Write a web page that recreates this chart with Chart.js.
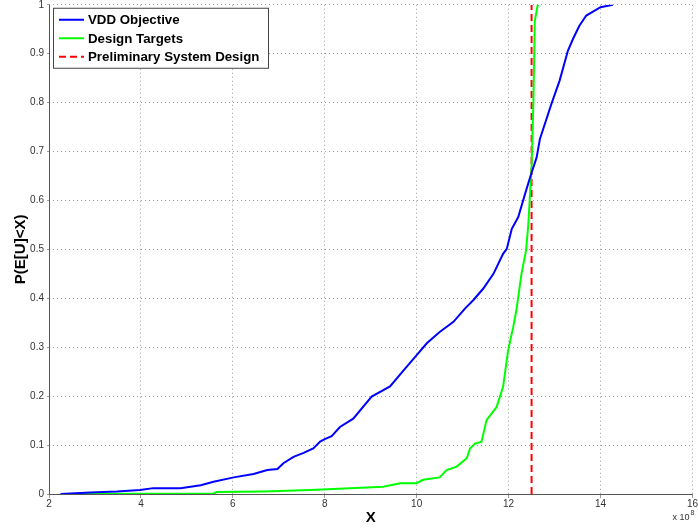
<!DOCTYPE html>
<html>
<head>
<meta charset="utf-8">
<script src="https://cdn.jsdelivr.net/npm/chart.js@4/dist/chart.umd.min.js"></script>
<style>
  html, body { margin: 0; padding: 0; background: #fff; }
  #wrap { width: 698px; height: 529px; position: relative; }
</style>
</head>
<body>
<div id="wrap"><canvas id="cdfChart"></canvas></div>
<script>
// DATA (x in units of 10^8)
const vddX = [2.25, 2.9, 3.48, 3.98, 4.27, 4.86, 5.3, 5.58, 6.02, 6.45, 6.75, 6.97, 7.1, 7.32, 7.54, 7.75, 7.9, 8.0, 8.15, 8.33, 8.62, 9.02, 9.42, 9.78, 10, 10.22, 10.5, 10.8, 11.05, 11.23, 11.45, 11.67, 11.88, 11.96, 12.07, 12.21, 12.36, 12.47, 12.61, 12.68, 12.93, 13.11, 13.29, 13.4, 13.54, 13.69, 14, 14.27];
const vddY = [0, 0.003, 0.005, 0.008, 0.012, 0.012, 0.018, 0.025, 0.034, 0.041, 0.049, 0.051, 0.063, 0.076, 0.084, 0.093, 0.107, 0.112, 0.118, 0.137, 0.154, 0.199, 0.22, 0.26, 0.284, 0.308, 0.331, 0.352, 0.379, 0.396, 0.42, 0.45, 0.491, 0.501, 0.542, 0.566, 0.614, 0.648, 0.688, 0.725, 0.797, 0.845, 0.906, 0.93, 0.957, 0.978, 0.995, 1.0];

const targetX = [2.72, 5.58, 5.65, 6.67, 7.68, 8.19, 8.55, 9.27, 9.64, 10, 10.14, 10.5, 10.65, 10.87, 11.09, 11.16, 11.27, 11.41, 11.52, 11.74, 11.88, 11.99, 12.1, 12.17, 12.28, 12.38, 12.43, 12.47, 12.5, 12.54, 12.57, 12.63, 12.65];
const targetY = [0, 0.001, 0.004, 0.005, 0.008, 0.01, 0.012, 0.015, 0.022, 0.022, 0.029, 0.034, 0.049, 0.056, 0.073, 0.093, 0.103, 0.107, 0.151, 0.178, 0.219, 0.294, 0.341, 0.376, 0.45, 0.498, 0.552, 0.62, 0.668, 0.804, 0.967, 0.998, 1.0];

const designX = [12.5, 12.5];
const designY = [0, 1];

const seriesNames = ['VDD Objective', 'Design Targets', 'Preliminary System Design'];
const xTicks = [2, 4, 6, 8, 10, 12, 14, 16];
const yTicks = [0, 0.1, 0.2, 0.3, 0.4, 0.5, 0.6, 0.7, 0.8, 0.9, 1];

function toPoints(xs, ys) {
    return xs.map((x, i) => ({ x: x, y: ys[i] }));
}

// legend box drawn inside the plot, matlab style
const boxLegend = {
    id: 'boxLegend',
    afterDraw(chart) {
        const ctx = chart.ctx;
        const area = chart.chartArea;
        const left = area.left + 4, top = area.top + 3;
        ctx.save();
        ctx.fillStyle = '#fff';
        ctx.fillRect(left, top, 215, 60);
        ctx.strokeStyle = '#444';
        ctx.lineWidth = 1;
        ctx.strokeRect(left + 0.5, top + 0.5, 215, 60);
        ctx.font = 'bold 13.3px "Liberation Sans", Arial, sans-serif';
        ctx.textBaseline = 'middle';
        chart.data.datasets.forEach((ds, i) => {
            const y = top + 12 + i * 18.5;
            ctx.strokeStyle = ds.borderColor;
            ctx.lineWidth = 2;
            ctx.setLineDash(ds.borderDash || []);
            ctx.beginPath();
            ctx.moveTo(left + 6, y);
            ctx.lineTo(left + 31, y);
            ctx.stroke();
            ctx.setLineDash([]);
            ctx.fillStyle = '#000';
            ctx.fillText(ds.label, left + 35, y + 1);
        });
        // exponent label
        ctx.font = '9px "Liberation Sans", Arial, sans-serif';
        ctx.fillStyle = '#333';
        ctx.textBaseline = 'alphabetic';
        ctx.fillText('x 10', area.right - 20, 520);
        ctx.font = '7px "Liberation Sans", Arial, sans-serif';
        ctx.fillText('8', area.right - 2, 515);
        // left and bottom axis lines
        ctx.strokeStyle = '#555';
        ctx.lineWidth = 1;
        ctx.beginPath();
        ctx.moveTo(area.left + 0.5, area.top);
        ctx.lineTo(area.left + 0.5, area.bottom + 0.5);
        ctx.lineTo(area.right, area.bottom + 0.5);
        ctx.stroke();
        ctx.restore();
    }
};

const ctx = document.querySelector('#cdfChart').getContext('2d');

let cdfChart = new Chart(ctx, {
    type: 'scatter',
    data: {
        datasets: [{
            label: seriesNames[0],
            data: toPoints(vddX, vddY),
            showLine: true,
            borderColor: '#0000ff',
            borderWidth: 2,
            pointRadius: 0,
            tension: 0
        }, {
            label: seriesNames[1],
            data: toPoints(targetX, targetY),
            showLine: true,
            borderColor: '#00ff00',
            borderWidth: 2,
            pointRadius: 0,
            tension: 0
        }, {
            label: seriesNames[2],
            data: toPoints(designX, designY),
            showLine: true,
            borderColor: '#ff0000',
            borderDash: [7, 4],
            borderWidth: 2,
            pointRadius: 0
        }]
    },
    options: {
        responsive: true,
        maintainAspectRatio: false,
        animation: false,
        layout: { padding: { left: 0, right: 2, top: 0, bottom: 0 } },
        plugins: {
            legend: { display: false },
            tooltip: { enabled: false }
        },
        scales: {
            x: {
                type: 'linear',
                min: 2,
                max: 16,
                afterBuildTicks: (scale) => { scale.ticks = xTicks.map(v => ({ value: v })); },
                afterFit: (scale) => { scale.height = 35; },
                ticks: {
                    color: '#333',
                    font: { size: 10, family: '"Liberation Sans", Arial, sans-serif' },
                    padding: 0,
                    maxRotation: 0
                },
                grid: {
                    color: '#999',
                    lineWidth: 1,
                    tickLength: 4,
                    drawTicks: true
                },
                border: { display: false, dash: [1, 3] },
                title: {
                    display: true,
                    text: 'X',
                    font: { size: 15, weight: 'bold', family: '"Liberation Sans", Arial, sans-serif' },
                    color: '#000',
                    padding: { top: 0, bottom: 2 }
                }
            },
            y: {
                min: 0,
                max: 1,
                afterBuildTicks: (scale) => { scale.ticks = yTicks.map(v => ({ value: v })); },
                afterFit: (scale) => { scale.width = 49; },
                ticks: {
                    color: '#333',
                    font: { size: 10, lineHeight: 0.35, family: '"Liberation Sans", Arial, sans-serif' },
                    padding: 3,
                    callback: (v) => String(Math.round(v * 10) / 10)
                },
                grid: {
                    color: '#999',
                    lineWidth: 1,
                    tickLength: 2
                },
                border: { display: false, dash: [1, 3] },
                title: {
                    display: true,
                    text: 'P(E[U]<X)',
                    font: { size: 15, weight: 'bold', family: '"Liberation Sans", Arial, sans-serif' },
                    color: '#000',
                    padding: { top: 12, bottom: 4 }
                }
            }
        }
    },
    plugins: [boxLegend]
});
</script>
</body>
</html>
